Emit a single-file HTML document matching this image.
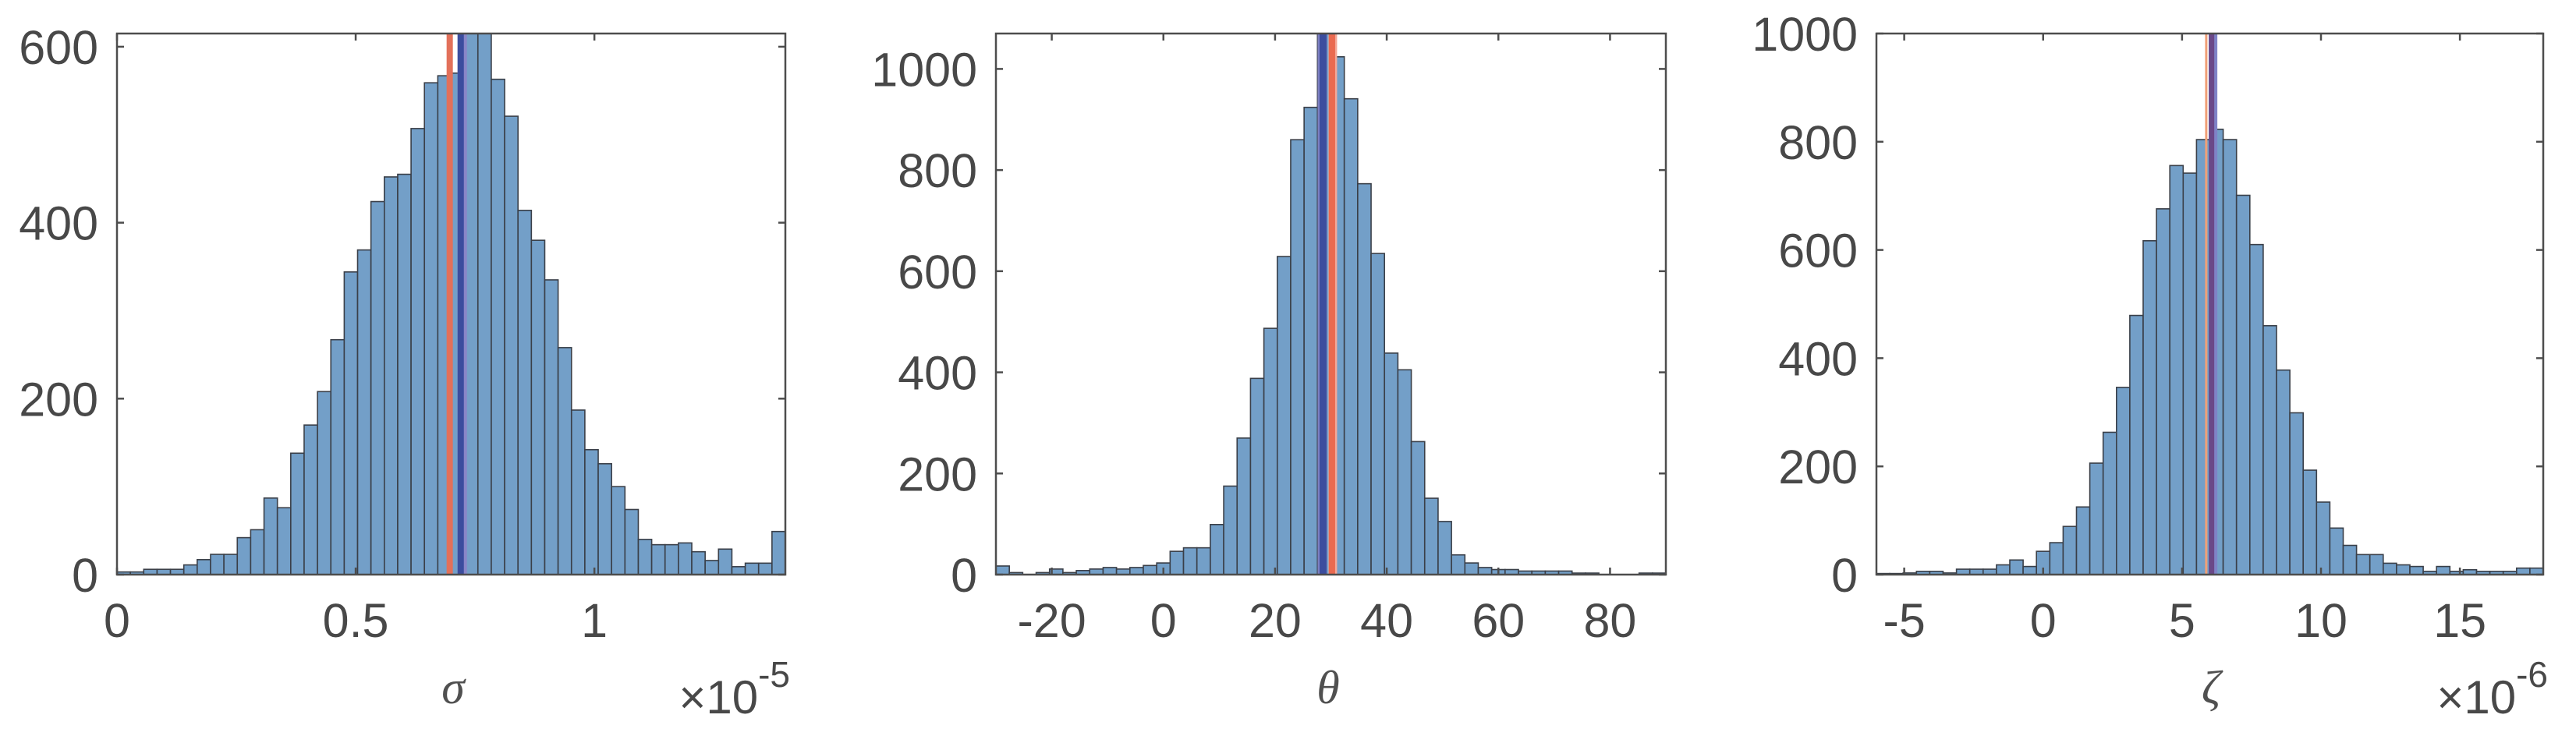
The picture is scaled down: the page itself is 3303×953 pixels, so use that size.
<!DOCTYPE html>
<html><head><meta charset="utf-8"><style>
html,body{margin:0;padding:0;background:#fff;}
svg{display:block;font-family:"Liberation Sans",sans-serif;}
</style></head><body>
<svg id="fig" width="3303" height="953" viewBox="0 0 3303 953" xmlns="http://www.w3.org/2000/svg"></svg>
<script>
// ---- Panel 1 (sigma) data ----
const sigmaCounts=[3,3,6,6,6,11,17,23,23,42,51,87,76,138,170,208,267,344,369,424,452,455,507,559,567,570,640,630,563,521,414,380,335,258,187,142,126,100,74,40,34,34,36,26,16,29,9,13,13,49];
const sigmaXTicks=[0,0.5,1];
const sigmaXTickLabels=["0","0.5","1"];
const sigmaYTicks=[0,200,400,600];
const sigmaLines=[0.697,0.720];
// ---- Panel 2 (theta) data ----
const thetaCounts=[17,4,0,4,11,4,8,11,14,11,14,18,23,46,53,53,99,175,270,388,487,629,860,924,1100,1024,941,773,635,438,405,263,151,105,39,23,14,10,10,7,7,7,7,3,3,0,0,0,3,3];
const thetaXTicks=[-20,0,20,40,60,80];
const thetaXTickLabels=["-20","0","20","40","60","80"];
const thetaYTicks=[0,200,400,600,800,1000];
const thetaLines=[28.6,30.2];
// ---- Panel 3 (zeta) data ----
const zetaCounts=[2,2,3,6,6,3,10,10,10,18,27,15,43,59,89,125,206,263,346,479,617,676,756,742,804,823,804,701,610,460,378,299,193,134,86,54,37,37,21,18,15,6,15,6,9,6,6,6,12,12];
const zetaXTicks=[-5,0,5,10,15];
const zetaXTickLabels=["-5","0","5","10","15"];
const zetaYTicks=[0,200,400,600,800,1000];
const zetaLines=[5.87,6.06];

const NS="http://www.w3.org/2000/svg";
const svg=document.getElementById('fig');
function mk(tag,attrs,parent){const e=document.createElementNS(NS,tag);for(const k in attrs)e.setAttribute(k,attrs[k]);(parent||svg).appendChild(e);return e;}

function panel(cfg){
  const g=mk('g',{});
  
  
  const L=cfg.left,R=cfg.right,T=43,B=737;
  const sx=v=>L+(v-cfg.xmin)/(cfg.xmax-cfg.xmin)*(R-L);
  const sy=v=>B-v/cfg.ymax*(B-T);
  const clip=mk('clipPath',{id:'clip-'+cfg.name},g);
  mk('rect',{x:L,y:T,width:R-L,height:B-T},clip);
  const bars=mk('g',{'clip-path':'url(#clip-'+cfg.name+')'},g);
  const n=cfg.counts.length,bw=(cfg.xmax-cfg.xmin)/n;
  cfg.counts.forEach((c,i)=>{
    const x0=sx(cfg.xmin+i*bw),x1=sx(cfg.xmin+(i+1)*bw);
    const r=mk('rect',{x:x0,y:sy(c),width:x1-x0,height:B-sy(c),fill:'#739fc8',stroke:'#3a3f48','stroke-width':1.6},bars);
    
    
  });
  // reference lines
  cfg.lines.forEach((v,i)=>{
    const st=cfg.lineStyles[i];
    if(st.halo){const h=mk('line',{x1:sx(v)+st.haloOff,x2:sx(v)+st.haloOff,y1:T,y2:B,stroke:st.halo,'stroke-width':st.haloW},bars);
      }
    const l=mk('line',{x1:sx(v),x2:sx(v),y1:T,y2:B,stroke:st.c,'stroke-width':st.w},bars);
    
    
  });
  // box
  const box=mk('rect',{x:L,y:T,width:R-L,height:B-T,fill:'none',stroke:'#4d4d4d','stroke-width':2.5},g);
  
  
  // ticks
  cfg.xticks.forEach((v,i)=>{
    const x=sx(v);
    mk('line',{x1:x,x2:x,y1:B,y2:B-9,stroke:'#4d4d4d','stroke-width':2.5},g);
    mk('line',{x1:x,x2:x,y1:T,y2:T+9,stroke:'#4d4d4d','stroke-width':2.5},g);
    const t=mk('text',{x:x,y:817,'text-anchor':'middle','font-size':61,fill:'#484848'},g);
    t.textContent=cfg.xlabels[i];
    
    
  });
  cfg.yticks.forEach(v=>{
    const y=sy(v);
    mk('line',{x1:L,x2:L+9,y1:y,y2:y,stroke:'#4d4d4d','stroke-width':2.5},g);
    mk('line',{x1:R,x2:R-9,y1:y,y2:y,stroke:'#4d4d4d','stroke-width':2.5},g);
    const t=mk('text',{x:L-24,y:y+22,'text-anchor':'end','font-size':61,fill:'#484848'},g);
    t.textContent=String(v);
    
    
  });
  const xl=mk('text',{x:cfg.labelX,y:902,'text-anchor':'middle','font-size':60,'font-style':'italic','font-family':'"Liberation Serif",serif',fill:'#505050'},g);
  xl.textContent=cfg.symbol;
  
  
  if(cfg.exp){
    const ex=mk('text',{x:R+6,y:915,'text-anchor':'end','font-size':60,fill:'#484848'},g);
    
    
    const a=mk('tspan',{},ex);a.textContent='×10';
    const b=mk('tspan',{dy:-34,'font-size':46},ex);b.textContent=cfg.exp;
  }
}
panel({name:'sigma',left:150,right:1007,xmin:0,xmax:1.4,ymax:615,counts:sigmaCounts,xticks:sigmaXTicks,xlabels:sigmaXTickLabels,yticks:sigmaYTicks,lines:sigmaLines,
  lineStyles:[{c:'#e2705a',w:8},{c:'#3b4d9e',w:8,halo:'#8a86c8',haloW:12,haloOff:2}],symbol:'σ',labelX:581,exp:'-5'});
panel({name:'theta',left:1277,right:2136,xmin:-30,xmax:90,ymax:1070,counts:thetaCounts,xticks:thetaXTicks,xlabels:thetaXTickLabels,yticks:thetaYTicks,lines:thetaLines,
  lineStyles:[{c:'#3b4d9e',w:9,halo:'#7d7fc0',haloW:12,haloOff:-1},{c:'#ea6a50',w:8,halo:'#f4a898',haloW:11,haloOff:1}],symbol:'θ',labelX:1703,exp:null});
panel({name:'zeta',left:2406,right:3261,xmin:-6,xmax:18,ymax:1000,counts:zetaCounts,xticks:zetaXTicks,xlabels:zetaXTickLabels,yticks:zetaYTicks,lines:zetaLines,
  lineStyles:[{c:'#f0a078',w:3},{c:'#6a4888',w:7,halo:'#7f82c6',haloW:11,haloOff:2}],symbol:'ζ',labelX:2835,exp:'-6'});
</script>
</body></html>
